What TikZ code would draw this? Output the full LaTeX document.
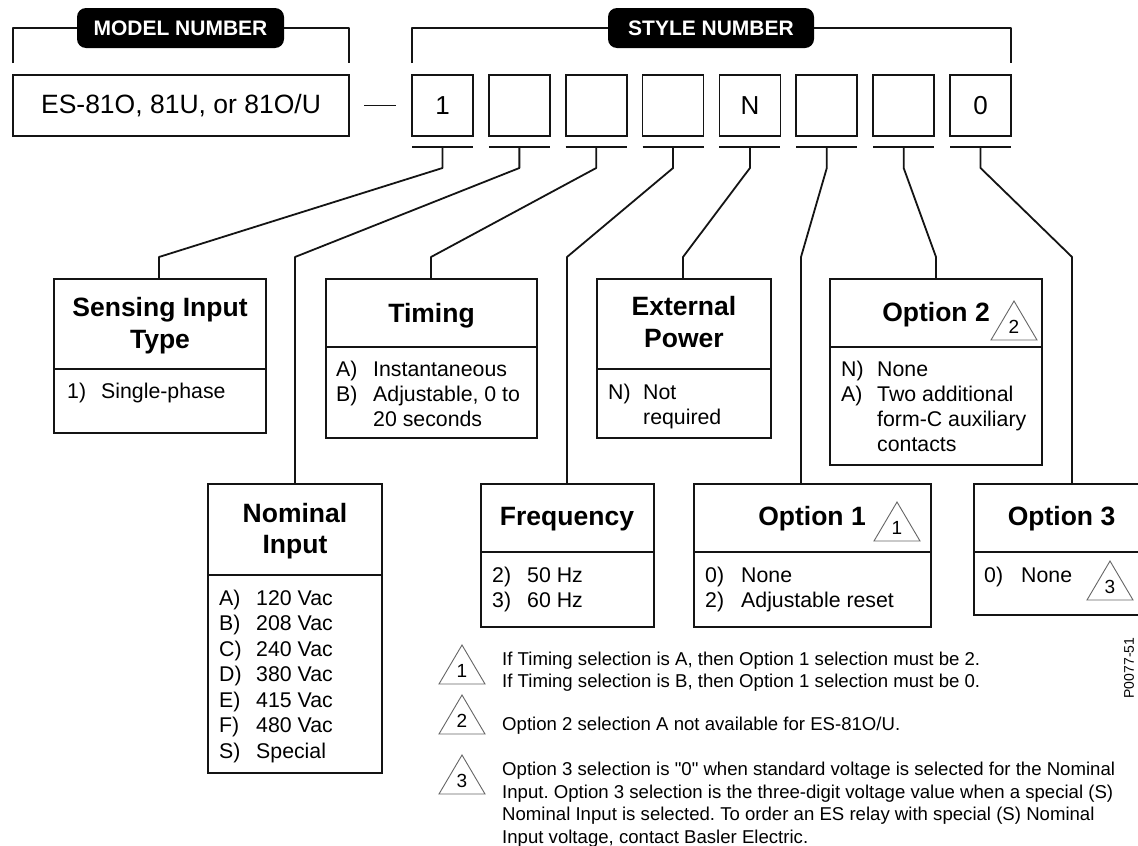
\documentclass[tikz,border=0pt]{standalone}
\usepackage{fontspec}
\setmainfont{Liberation Sans}[Ligatures=TeXOff]
\frenchspacing
\begin{document}
\begin{tikzpicture}[x=1pt,y=-1pt,
  ln/.style={line width=1.8pt, draw=black!92, line join=round},
  box/.style={draw=black!92, line width=1.8pt, inner sep=0pt, outer sep=0pt, anchor=north west},
  pill/.style={fill=black, rounded corners=9pt, text=white, inner sep=0pt,
     minimum height=40pt, font=\fontsize{21}{24}\selectfont\bfseries},
  ttl/.style={font=\fontsize{26.5}{32}\selectfont\bfseries, inner sep=0pt, anchor=base},
  itm/.style={font=\fontsize{21.3}{25}\selectfont, inner sep=0pt, anchor=base west},
  fnt/.style={font=\fontsize{18.6}{22.5}\selectfont, inner sep=0pt, anchor=base west},
  trinum/.style={font=\fontsize{19}{20}\selectfont, inner sep=0pt},
  tri/.style={draw=black!60, line width=0.9pt, line join=miter}]
\newcommand\warntri[4]{%
  \draw[tri] (#2,#3) -- ++(-23,39) -- ++(46,0) -- cycle;
  \node[trinum] (#1) at (#2,#3+26) {#4};}
\useasboundingbox (0,0) rectangle (1138,846);
\fill[white] (0,0) rectangle (1138,846);
\clip (0,0) rectangle (1138,846);

% ---- header pills and brackets
\node[box, minimum width=336pt, minimum height=61pt,
      font=\fontsize{26.5}{30}\selectfont] (mbox) at (13,75) {ES-81O, 81U, or 81O/U};
\node[pill, minimum width=207pt] (mpill) at (180.5,28) {MODEL NUMBER};
\node[pill, minimum width=206pt] (spill) at (711,28) {STYLE NUMBER};

\foreach \i/\t in {1/1,2/{},3/{},4/{},5/N,6/{},7/{},8/0}{
  \node[box, minimum width=61pt, minimum height=61pt,
        font=\fontsize{26}{30}\selectfont] (sb\i) at ({412+76.86*(\i-1)},75) {\t};
  \draw[ln] ([yshift=-11pt]sb\i.south west) -- ([yshift=-11pt]sb\i.south east);
}
\draw[ln] ([yshift=12pt]mbox.north west) |- (mpill.west);
\draw[ln] (mpill.east) -| ([yshift=12pt]mbox.north east);
\draw[ln] ([yshift=12pt]sb1.north west) |- (spill.west);
\draw[ln] (spill.east) -| ([yshift=12pt]sb8.north east);
\draw[ln] ([xshift=15pt]mbox.east) -- ([xshift=-16pt]sb1.west);

% ---- option boxes
\node[box, minimum width=212pt, minimum height=154pt] (sen) at (54,279) {};
\node[box, minimum width=211pt, minimum height=159pt] (tim) at (326,279) {};
\node[box, minimum width=174pt, minimum height=159pt] (ext) at (597,279) {};
\node[box, minimum width=212pt, minimum height=186pt] (op2) at (830,279) {};
\node[box, minimum width=174pt, minimum height=289pt] (nom) at (208,484) {};
\node[box, minimum width=173pt, minimum height=143pt] (frq) at (481,484) {};
\node[box, minimum width=237pt, minimum height=143pt] (op1) at (694,484) {};
\node[box, minimum width=198pt, minimum height=131pt] (op3) at (974,484) {};

\draw[ln] ([yshift=-90pt]sen.north west) -- ([yshift=-90pt]sen.north east);
\draw[ln] ([yshift=-68pt]tim.north west) -- ([yshift=-68pt]tim.north east);
\draw[ln] ([yshift=-90pt]ext.north west) -- ([yshift=-90pt]ext.north east);
\draw[ln] ([yshift=-68pt]op2.north west) -- ([yshift=-68pt]op2.north east);
\draw[ln] ([yshift=-91pt]nom.north west) -- ([yshift=-91pt]nom.north east);
\draw[ln] ([yshift=-68pt]frq.north west) -- ([yshift=-68pt]frq.north east);
\draw[ln] ([yshift=-68pt]op1.north west) -- ([yshift=-68pt]op1.north east);
\draw[ln] ([yshift=-68pt]op3.north west) -- ([yshift=-68pt]op3.north east);

% ---- connectors
\coordinate (k1) at (159,257);
\coordinate (k2) at (295,257);
\coordinate (k3) at (431,257);
\coordinate (k4) at (567,257);
\coordinate (k5) at (683,257);
\coordinate (k6) at (801,257);
\coordinate (k7) at (936,257);
\coordinate (k8) at (1072,257);
\foreach \i/\tg in {1/sen,2/nom,3/tim,4/frq,5/ext,6/op1,7/op2,8/op3}{
  \draw[ln] ([yshift=-11pt]sb\i.south) -- ++(0,21) -- (k\i) -- (k\i |- \tg.north);
}

% ---- titles
\node[ttl] (sen-t1) at (160,316) {Sensing Input};
\node[ttl] (sen-t2) at (160,348) {Type};
\node[ttl] (tim-t) at (431.5,322) {Timing};
\node[ttl] (ext-t1) at (684,315) {External};
\node[ttl] (ext-t2) at (684,347) {Power};
\node[ttl] (op2-t) at (936,321) {Option 2};
\node[ttl] (nom-t1) at (295,522) {Nominal};
\node[ttl] (nom-t2) at (295,553) {Input};
\node[ttl] (frq-t) at (567,525) {Frequency};
\node[ttl] (op1-t) at (812,525) {Option 1};
\node[ttl] (op3-t) at (1061.5,525) {Option 3};

% ---- items
\node[itm] (sen-a) at (67,398) {1)};
\node[itm] (sen-b) at (101,398) {Single-phase};

\node[itm] (tim-a) at (336,376) {A)};
\node[itm] (tim-b) at (373,376) {Instantaneous};
\node[itm] (tim-c) at (336,401) {B)};
\node[itm] (tim-d) at (373,401) {Adjustable, 0 to};
\node[itm] (tim-e) at (373,426) {20 seconds};

\node[itm] (ext-a) at (608,399) {N)};
\node[itm] (ext-b) at (643,399) {Not};
\node[itm] (ext-c) at (643,424) {required};

\node[itm] (op2-a) at (841,376) {N)};
\node[itm] (op2-b) at (877,376) {None};
\node[itm] (op2-c) at (841,401) {A)};
\node[itm] (op2-d) at (877,401) {Two additional};
\node[itm] (op2-e) at (877,426) {form-C auxiliary};
\node[itm] (op2-f) at (877,451) {contacts};

\foreach \k/\l/\v in {0/A/120,1/B/208,2/C/240,3/D/380,4/E/415,5/F/480}{
  \node[itm] (nom-l\k) at (219,{605+25.5*\k}) {\l)};
  \node[itm] (nom-v\k) at (256,{605+25.5*\k}) {\v\ Vac};
}
\node[itm] (nom-l6) at (219,758) {S)};
\node[itm] (nom-v6) at (256,758) {Special};

\node[itm] (frq-a) at (492,582) {2)};
\node[itm] (frq-b) at (527,582) {50 Hz};
\node[itm] (frq-c) at (492,607) {3)};
\node[itm] (frq-d) at (527,607) {60 Hz};

\node[itm] (op1-a) at (705,582) {0)};
\node[itm] (op1-b) at (741,582) {None};
\node[itm] (op1-c) at (705,607) {2)};
\node[itm] (op1-d) at (741,607) {Adjustable reset};

\node[itm] (op3-a) at (984,582) {0)};
\node[itm] (op3-b) at (1021,582) {None};

% ---- warning triangles
\warntri{t-op1}{897}{502}{1}
\warntri{t-op2}{1014}{301}{2}
\warntri{t-op3}{1110}{561}{3}
\warntri{t-f1}{462}{645}{1}
\warntri{t-f2}{462}{695}{2}
\warntri{t-f3}{462}{755}{3}

% ---- footnotes
\node[fnt] (f1a) at (502,665) {If Timing selection is A, then Option 1 selection must be 2.};
\node[fnt] (f1b) at (502,687.5) {If Timing selection is B, then Option 1 selection must be 0.};
\node[fnt] (f2a) at (502,730) {Option 2 selection A not available for ES-81O/U.};
\node[fnt] (f3a) at (502,775.5) {Option 3 selection is "0" when standard voltage is selected for the Nominal};
\node[fnt] (f3b) at (502,798) {Input. Option 3 selection is the three-digit voltage value when a special (S)};
\node[fnt] (f3c) at (502,820.5) {Nominal Input is selected. To order an ES relay with special (S) Nominal};
\node[fnt] (f3d) at (502,843) {Input voltage, contact Basler Electric.};

\node[rotate=90, font=\fontsize{14}{16}\selectfont, inner sep=0pt] (pn) at (1129,668) {P0077-51};
\end{tikzpicture}
\end{document}
